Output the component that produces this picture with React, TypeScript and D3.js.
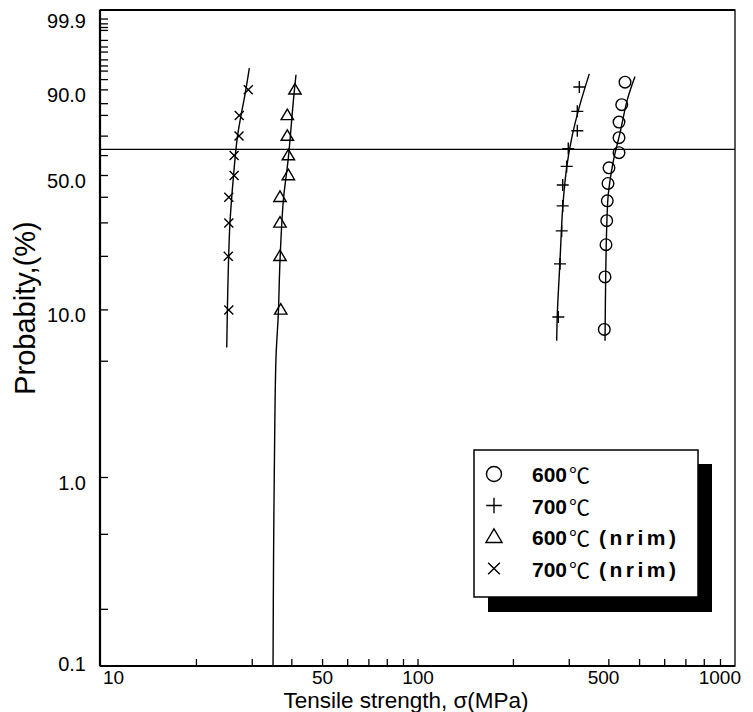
import React from 'react';
import * as d3 from 'd3';

// ---------- data ----------
// 600°C  (circles)
const c600Strength = [387.0, 389.0, 391.8, 393.8, 395.5, 397.5, 400.4, 430.6, 430.6, 430.6, 439.2, 449.8];
const c600Prob = [7.7, 15.4, 23.1, 30.8, 38.5, 46.2, 53.8, 61.5, 69.2, 76.9, 84.6, 92.3];
// 700°C  (plus)
const c700Strength = [277.1, 280.5, 284.0, 286.1, 286.1, 294.4, 297.9, 318.1, 318.1, 322.8];
const c700Prob = [9.1, 18.2, 27.3, 36.4, 45.5, 54.5, 63.6, 72.7, 81.8, 90.9];
// 600°C (nrim)  (triangles)
const n600Strength = [36.9, 36.7, 36.7, 36.7, 39.0, 39.0, 38.7, 38.7, 40.9];
const n600Prob = [10, 20, 30, 40, 50, 60, 70, 80, 90];
// 700°C (nrim)  (crosses)
const n700Strength = [25.3, 25.2, 25.3, 25.3, 26.3, 26.3, 27.25, 27.3, 29.15];
const n700Prob = [10, 20, 30, 40, 50, 60, 70, 80, 90];

// fitted curves
const fit600Strength = [389.0, 390.9, 393.8, 398.4, 413.2, 433.8, 457.5, 483.6];
const fit600Prob = [6.61, 15.3, 28.4, 41.3, 57.2, 71.6, 86.6, 93.8];
const fit700Strength = [273.9, 275.1, 280.5, 286.1, 294.4, 305.4, 324.3, 347.0];
const fit700Prob = [6.61, 9.45, 18.9, 35.7, 53.9, 69.0, 84.6, 94.4];
const fitN600Strength = [34.89, 35.02, 35.27, 35.65, 36.25, 36.7, 37.59, 38.99, 40.43, 41.22];
const fitN600Prob = [0.1, 0.365, 1.47, 5.27, 9.45, 18.9, 38.4, 58.8, 85.9, 94.2];
const fitN700Strength = [24.93, 25.1, 25.5, 26.15, 26.9, 27.8, 28.46, 29.37];
const fitN700Prob = [6.03, 12.3, 29.5, 48.9, 69.0, 81.8, 88.4, 95.6];

const refLineProb = 63.2;

const xTickValues = [10, 50, 100, 500, 1000];
const xTickLabels = ['10', '50', '100', '500', '1000'];
const xMinorTicks = [20, 30, 40, 50, 60, 70, 80, 90, 100, 200, 300, 400, 500, 600, 700, 800, 900];

const yTickValues = [0.1, 1, 10, 50, 90, 99.9];
const yTickLabels = ['0.1', '1.0', '10.0', '50.0', '90.0', '99.9'];
const yMinorTicks = [0.2, 0.5, 1, 5, 10, 20, 30, 40, 50, 60, 70, 80, 85, 90, 93, 95, 96, 97, 98, 98.5, 99, 99.5, 99.6, 99.7, 99.8];

const legendLabels = ['600', '700', '600', '700'];
const legendSuffix = ['', '', '(nrim)', '(nrim)'];

// ---------- layout ----------
const W = 753;
const H = 712;
const L = 100;
const R = 735;
const T = 10;
const B = 666;
// the original figure prints its "500" label left of the true 500 position
const xLabelShift: Record<string, number> = { '500': -36 };

const weib = (p: number) => Math.log(-Math.log(1 - p / 100));

const x = d3.scaleLog().domain([10, 1000]).range([101, R]);
const yW = d3
  .scaleLinear()
  .domain([weib(0.1), weib(1), weib(99.9)])
  .range([B, 477.5, 11.5]);
const y = (p: number) => yW(weib(p));

const FONT = 'Liberation Sans, Arial, Helvetica, sans-serif';

type Pt = [number, number];
const zip = (a: number[], b: number[]): Pt[] => a.map((v, i) => [v, b[i]]);

const lineGen = d3
  .line<Pt>()
  .x((d) => x(d[0]))
  .y((d) => y(d[1]))
  .curve(d3.curveCatmullRom.alpha(0.5));

function Marker({ kind, cx, cy, s = 1 }: { kind: number; cx: number; cy: number; s?: number }) {
  const sw = 1.4;
  if (kind === 0) return <circle cx={cx} cy={cy} r={5.8 * s} fill="none" stroke="#000" strokeWidth={sw} />;
  if (kind === 1) {
    const a = 6 * s;
    return (
      <path d={`M${cx - a},${cy}H${cx + a}M${cx},${cy - a}V${cy + a}`} stroke="#000" strokeWidth={sw} fill="none" />
    );
  }
  if (kind === 2) {
    const a = 6.2 * s;
    const h = 10.5 * s;
    return (
      <path
        d={`M${cx},${cy - h * 0.6}L${cx + a},${cy + h * 0.4}L${cx - a},${cy + h * 0.4}Z`}
        fill="none"
        stroke="#000"
        strokeWidth={sw}
        strokeLinejoin="miter"
      />
    );
  }
  const a = 4.5 * s;
  return (
    <path d={`M${cx - a},${cy - a}L${cx + a},${cy + a}M${cx - a},${cy + a}L${cx + a},${cy - a}`} stroke="#000" strokeWidth={sw} fill="none" />
  );
}

export default function App() {
  const series = [
    { kind: 0, pts: zip(c600Strength, c600Prob), fit: zip(fit600Strength, fit600Prob) },
    { kind: 1, pts: zip(c700Strength, c700Prob), fit: zip(fit700Strength, fit700Prob) },
    { kind: 2, pts: zip(n600Strength, n600Prob), fit: zip(fitN600Strength, fitN600Prob) },
    { kind: 3, pts: zip(n700Strength, n700Prob), fit: zip(fitN700Strength, fitN700Prob) },
  ];

  const lgX = 474;
  const lgY = 450;
  const lgW = 224;
  const lgH = 147;
  const sh = 14;

  return (
    <svg
      width={W}
      height={H}
      viewBox={`0 0 ${W} ${H}`}
      style={{ position: 'absolute', left: 0, top: 0, background: '#fff' }}
      fontFamily={FONT}
    >
      <rect x={0} y={0} width={W} height={H} fill="#fff" />

      {/* reference line at 63.2% */}
      <line x1={L} x2={R} y1={y(refLineProb)} y2={y(refLineProb)} stroke="#000" strokeWidth={1.2} />

      {/* frame */}
      <rect x={L} y={T} width={R - L} height={B - T} fill="none" stroke="#000" strokeWidth={1.3} />
      <line x1={L} x2={L} y1={T} y2={B} stroke="#000" strokeWidth={2.2} />
      <line x1={L} x2={R} y1={B} y2={B} stroke="#000" strokeWidth={2.2} />
      <line x1={L} x2={R} y1={T} y2={T} stroke="#000" strokeWidth={1.8} />

      {/* y ticks */}
      {yMinorTicks.map((p, i) => (
        <line key={'yt' + i} x1={L} x2={L + 8} y1={y(p)} y2={y(p)} stroke="#000" strokeWidth={1.3} />
      ))}
      {yTickValues.map((p, i) => (
        <text
          key={'yl' + i}
          x={86}
          y={Math.min(Math.max(y(p) + 5, T + 11), B - 2)}
          textAnchor="end"
          dominantBaseline="central"
          fontSize={20}
          fill="#000"
        >
          {yTickLabels[i]}
        </text>
      ))}

      {/* x ticks */}
      {xMinorTicks.map((v, i) => (
        <line key={'xt' + i} x1={x(v)} x2={x(v)} y1={B} y2={B - 7} stroke="#000" strokeWidth={1.3} />
      ))}
      {xTickValues.map((v, i) => {
        const first = i === 0;
        const last = i === xTickValues.length - 1;
        const lab = xTickLabels[i];
        const base = first ? x(v) + 2 : last ? x(v) + 6 : x(v);
        return (
          <text
            key={'xl' + i}
            x={base + (xLabelShift[lab] || 0)}
            y={684}
            textAnchor={first ? 'start' : last ? 'end' : 'middle'}
            fontSize={19}
            fill="#000"
          >
            {lab}
          </text>
        );
      })}

      {/* axis titles */}
      <text x={406} y={708} textAnchor="middle" fontSize={22.5} fill="#000">
        Tensile strength, σ(MPa)
      </text>
      <text
        transform={`translate(35,308) rotate(-90)`}
        textAnchor="middle"
        fontSize={29}
        fill="#000"
      >
        Probabity,(%)
      </text>

      {/* fitted curves */}
      {series.map((s, i) => (
        <path key={'f' + i} d={lineGen(s.fit) || ''} fill="none" stroke="#000" strokeWidth={1.4} />
      ))}

      {/* points */}
      {series.map((s, i) =>
        s.pts.map((d, j) => <Marker key={`m${i}-${j}`} kind={s.kind} cx={x(d[0])} cy={y(d[1])} />)
      )}

      {/* legend */}
      <rect x={lgX + sh} y={lgY + sh} width={lgW} height={lgH + 1} fill="#000" />
      <rect x={lgX} y={lgY} width={lgW} height={lgH} fill="#fff" stroke="#000" strokeWidth={1.5} />
      {legendLabels.map((lab, i) => {
        const cy = lgY + 24 + i * 31.5;
        return (
          <g key={'lg' + i}>
            <Marker kind={i} cx={lgX + 20} cy={cy} s={1.3} />
            <text x={lgX + 58} y={cy} dominantBaseline="central" fontSize={21} fill="#000">
              <tspan fontWeight="bold">{lab}</tspan>
              <tspan fontFamily="Noto Sans CJK KR, sans-serif" fontSize={21} dx={2}>℃</tspan>
              {legendSuffix[i] ? (
                <tspan fontWeight="bold" letterSpacing={3.5} dx={9}>{legendSuffix[i]}</tspan>
              ) : null}
            </text>
          </g>
        );
      })}
    </svg>
  );
}
